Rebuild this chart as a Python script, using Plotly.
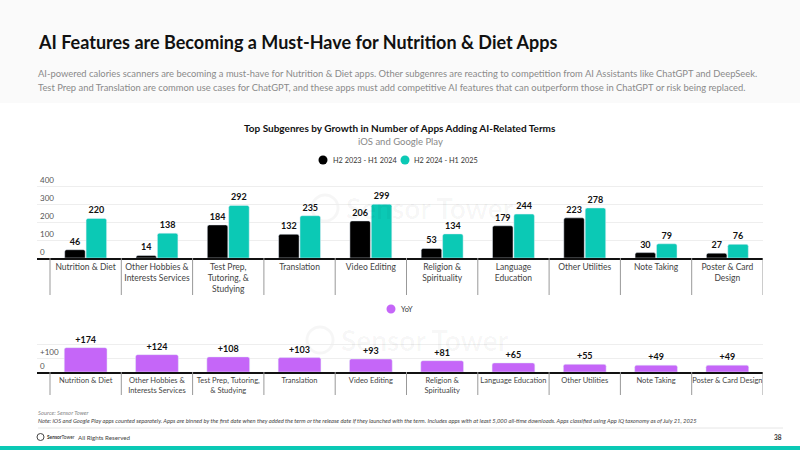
import plotly.graph_objects as go

categories_top = ["Nutrition & Diet", "Other Hobbies &<br>Interests Services", "Test Prep,<br>Tutoring, &<br>Studying",
                  "Translation", "Video Editing", "Religion &<br>Spirituality", "Language<br>Education",
                  "Other Utilities", "Note Taking", "Poster & Card<br>Design"]
categories_bottom = ["Nutrition & Diet", "Other Hobbies &<br>Interests Services", "Test Prep, Tutoring,<br>& Studying",
                     "Translation", "Video Editing", "Religion &<br>Spirituality", "Language Education",
                     "Other Utilities", "Note Taking", "Poster & Card Design"]
series_2324 = [46, 14, 184, 132, 206, 53, 179, 223, 30, 27]
series_2425 = [220, 138, 292, 235, 299, 134, 244, 278, 79, 76]
yoy = [174, 124, 108, 103, 93, 81, 65, 55, 49, 49]
series_names = ["H2 2023 - H1 2024", "H2 2024 - H1 2025", "YoY"]
top_ticks = [0, 100, 200, 300, 400]
bottom_ticks = [0, 100, 200]
bottom_ticktext = ["0", "+100", "+200"]

BLACK = "#000000"
TEAL = "#0bc9b5"
PURPLE = "#c566f8"
FONT = "Lato"
NARROW = "Liberation Sans Narrow, Lato"
W, H = 800, 450


def py(px):
    return 1 - px / H


xpos = list(range(len(categories_top)))

fig = go.Figure()
fig.add_trace(go.Bar(x=xpos, y=series_2324, name=series_names[0], marker_color=BLACK,
                     text=series_2324, textposition="outside", cliponaxis=False, constraintext="none",
                     textfont=dict(size=9, color="#111", family=FONT, weight="bold"),
                     xaxis="x", yaxis="y", showlegend=False))
fig.add_trace(go.Bar(x=xpos, y=series_2425, name=series_names[1], marker_color=TEAL,
                     text=series_2425, textposition="outside", cliponaxis=False, constraintext="none",
                     textfont=dict(size=9, color="#111", family=FONT, weight="bold"),
                     xaxis="x", yaxis="y", showlegend=False))
fig.add_trace(go.Bar(x=xpos, y=yoy, name=series_names[2], marker_color=PURPLE,
                     text=["+%d" % v for v in yoy], textposition="outside", cliponaxis=False,
                     constraintext="none",
                     textfont=dict(size=9, color="#111", family=FONT, weight="bold"),
                     xaxis="x2", yaxis="y2", showlegend=False, width=0.6))

xrange = [-0.5 - 13 / 71.3, len(categories_top) - 0.5]
xdom = [37 / W, 763 / W]

common_x = dict(range=xrange, domain=xdom, showgrid=False, zeroline=False, showline=True,
                linecolor="#111", linewidth=1.5, ticks="",
                tickmode="array", tickvals=xpos, fixedrange=True)

# top: 0 at y=258px, 400 at y=186px -> 0.18 px/unit ; extend range to 460
top_max = 460
top_top_px = 258 - top_max * 0.18
# bottom: 0 at y=372px, 200 at y=344px -> 0.14 px/unit ; extend range to 260
bot_max = 260
bot_top_px = 372 - bot_max * 0.14

fig.update_layout(
    width=W, height=H, margin=dict(l=0, r=0, t=0, b=0),
    paper_bgcolor="white", plot_bgcolor="rgba(0,0,0,0)",
    font=dict(family=FONT, color="#333"),
    barmode="group", bargap=0.4, bargroupgap=0.04, barcornerradius=2,
    xaxis=dict(common_x, anchor="y", ticktext=categories_top,
               tickfont=dict(size=8.5, color="#444", family=FONT)),
    yaxis=dict(domain=[py(258), py(top_top_px)], range=[0, top_max], tickvals=top_ticks, showgrid=True,
               gridcolor="#eeeeee", gridwidth=1, zeroline=False, showline=False,
               ticklabelposition="inside top", tickfont=dict(size=8, color="#555", family=FONT),
               anchor="x", fixedrange=True),
    xaxis2=dict(common_x, anchor="y2", ticktext=categories_bottom,
                tickfont=dict(size=7.5, color="#444", family=FONT)),
    yaxis2=dict(domain=[py(372), py(bot_top_px)], range=[0, bot_max], tickvals=bottom_ticks,
                ticktext=bottom_ticktext,
                showgrid=True, gridcolor="#eeeeee", gridwidth=1, zeroline=False, showline=False,
                ticklabelposition="inside top", tickfont=dict(size=8, color="#555", family=FONT),
                anchor="x2", fixedrange=True),
)

shapes = []
# header background
shapes.append(dict(type="rect", xref="paper", yref="paper", x0=0, x1=1, y0=py(103), y1=1,
                   fillcolor="#fafafa", line=dict(width=0), layer="below"))
# category separators
for i in range(len(categories_top) + 1):
    shapes.append(dict(type="line", xref="x", yref="paper", x0=i - 0.5, x1=i - 0.5,
                       y0=py(258), y1=py(295), line=dict(color="#999", width=1)))
    shapes.append(dict(type="line", xref="x2", yref="paper", x0=i - 0.5, x1=i - 0.5,
                       y0=py(372), y1=py(395), line=dict(color="#999", width=1)))
# footer line
shapes.append(dict(type="line", xref="paper", yref="paper", x0=38 / W, x1=783 / W, y0=py(428), y1=py(428),
                   line=dict(color="#e6e6e6", width=1)))
# bottom teal strip
shapes.append(dict(type="rect", xref="paper", yref="paper", x0=0, x1=1, y0=0, y1=py(446),
                   fillcolor=TEAL, line=dict(width=0)))
# legend dots
for cx, cy, col in [(323, 160, BLACK), (405, 160, TEAL), (391, 309, PURPLE)]:
    shapes.append(dict(type="circle", xref="paper", yref="paper", x0=(cx - 4.5) / W, x1=(cx + 4.5) / W,
                       y0=py(cy + 4.5), y1=py(cy - 4.5), fillcolor=col, line=dict(width=0)))
# watermark circles
for cx, cy in [(325, 208), (320, 340)]:
    shapes.append(dict(type="circle", xref="paper", yref="paper", x0=(cx - 13) / W, x1=(cx + 13) / W,
                       y0=py(cy + 13), y1=py(cy - 13), line=dict(color="rgba(0,0,0,0.035)", width=3),
                       layer="below"))
# footer logo circle
shapes.append(dict(type="circle", xref="paper", yref="paper", x0=37 / W, x1=44 / W,
                   y0=py(440.5), y1=py(433.5), line=dict(color="#444", width=1)))
fig.update_layout(shapes=shapes)

ann = []


def add_text(x, y, text, size, color="#333", xanchor="left", weight="normal", style="normal", family=FONT):
    ann.append(dict(xref="paper", yref="paper", x=x / W, y=py(y), text=text, showarrow=False,
                    xanchor=xanchor, yanchor="middle", align="left", borderpad=0,
                    font=dict(size=size, color=color, family=family, weight=weight, style=style)))


add_text(37, 42, "AI Features are Becoming a Must-Have for Nutrition & Diet Apps", 18, "#111", weight="bold")
add_text(37, 73, "AI-powered calories scanners are becoming a must-have for Nutrition & Diet apps. Other subgenres are reacting to competition from AI Assistants like ChatGPT and DeepSeek.", 9.4, "#8a8a8a")
add_text(37, 87, "Test Prep and Translation are common use cases for ChatGPT, and these apps must add competitive AI features that can outperform those in ChatGPT or risk being replaced.", 9.4, "#8a8a8a")
add_text(400, 128, "Top Subgenres by Growth in Number of Apps Adding AI-Related Terms", 10, "#111", xanchor="center", weight="bold")
add_text(400, 141, "iOS and Google Play", 9.5, "#888", xanchor="center")
# legends
add_text(332, 160, series_names[0], 7.3, "#333")
add_text(413, 160, series_names[1], 7.3, "#333")
add_text(400, 309, series_names[2], 7.3, "#333")
# watermarks
add_text(345, 208, "Sensor Tower", 28, "rgba(0,0,0,0.035)", weight="bold")
add_text(340, 340, "Sensor Tower", 28, "rgba(0,0,0,0.035)", weight="bold")
# footer
add_text(37, 412, "Source: Sensor Tower", 5.8, "#888", style="italic")
add_text(37, 420, "Note: iOS and Google Play apps counted separately. Apps are binned by the first date when they added the term or the release date if they launched with the term. Includes apps with at least 5,000 all-time downloads. Apps classified using App IQ taxonomy as of July 21, 2025", 5.8, "#444", style="italic")
add_text(46, 437, "<b>Sensor</b>Tower", 4.8, "#333", family=NARROW)
add_text(77, 437, "All Rights Reserved", 6.2, "#444")
add_text(783, 437, "<b>38</b>", 6.5, "#333", xanchor="right")
fig.update_layout(annotations=ann)

fig.write_html("out.html")
